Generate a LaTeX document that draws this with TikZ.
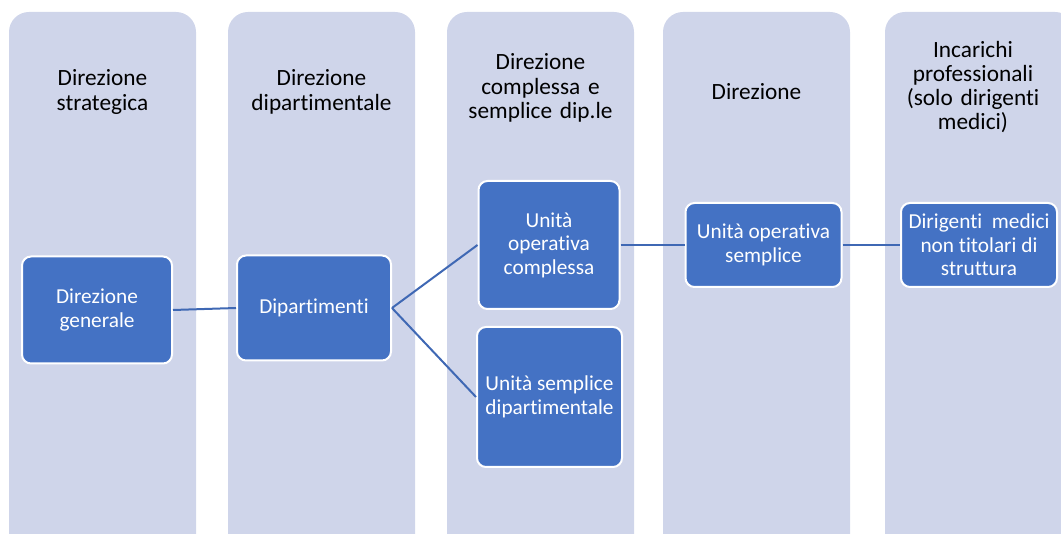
\documentclass[tikz,border=0pt]{standalone}
\usepackage{fontspec}
\setmainfont{Carlito}[Ligatures=NoCommon]
\definecolor{colfill}{HTML}{CFD5EA}
\definecolor{boxfill}{HTML}{4472C4}
\definecolor{linecol}{HTML}{3F68B4}
\begin{document}
\begin{tikzpicture}[x=1pt,y=-1pt,
  column/.style={fill=colfill, draw=none, rounded corners=20pt},
  header/.style={text width=185pt, align=center, font=\fontsize{23.3}{24.3}\selectfont, text=black, inner sep=0pt},
  unit/.style={fill=boxfill, draw=white, line width=2pt, rounded corners=9pt, text=white, align=center,
    font=\fontsize{21.3}{23.5}\selectfont, inner sep=0pt},
  link/.style={draw=linecol, line width=2pt}]
\useasboundingbox (0,0) rectangle (1061,534);
\begin{scope}
\clip (0,0) rectangle (1061,534);
\path[column] (9,12) rectangle (196,560);
\path[column] (228,12) rectangle (415,560);
\path[column] (447,12) rectangle (634,560);
\path[column] (663,12) rectangle (850,560);
\path[column] (885,12) rectangle (1075,560);
\end{scope}
\node[header] (h1) at (102.5,92) {Direzione\\strategica};
\node[header] (h2) at (321.5,92) {Direzione\\dipartimentale};
\node[header] (h3) at (540.5,88) {Direzione\\complessa e\\semplice dip.le};
\node[header] (h4) at (756.5,92) {Direzione};
\node[header] (h5) at (973,87) {Incarichi\\professionali\\(solo dirigenti\\medici)};
\node[unit, minimum width=150pt, minimum height=107pt] (dg) at (97,310) {Direzione\\generale};
\node[unit, minimum width=154pt, minimum height=105pt] (dip) at (314,308) {Dipartimenti};
\node[unit, minimum width=141pt, minimum height=128pt] (uoc) at (549,245) {Unità\\operativa\\complessa};
\node[unit, minimum width=145pt, minimum height=140pt] (usd) at (549.5,397) {Unità semplice\\dipartimentale};
\node[unit, minimum width=156pt, minimum height=84pt] (uos) at (763.5,245) {Unità operativa\\semplice};
\node[unit, minimum width=156pt, minimum height=84pt] (dm) at (979,245) {Dirigenti\ \ medici\\non titolari di\\struttura};
\draw[link] (dg.east) -- (dip.west);
\draw[link] (dip.east) -- (uoc.west);
\draw[link] (dip.east) -- (usd.west);
\draw[link] (uoc.east) -- (uos.west);
\draw[link] (uos.east) -- (dm.west);
\end{tikzpicture}
\end{document}
